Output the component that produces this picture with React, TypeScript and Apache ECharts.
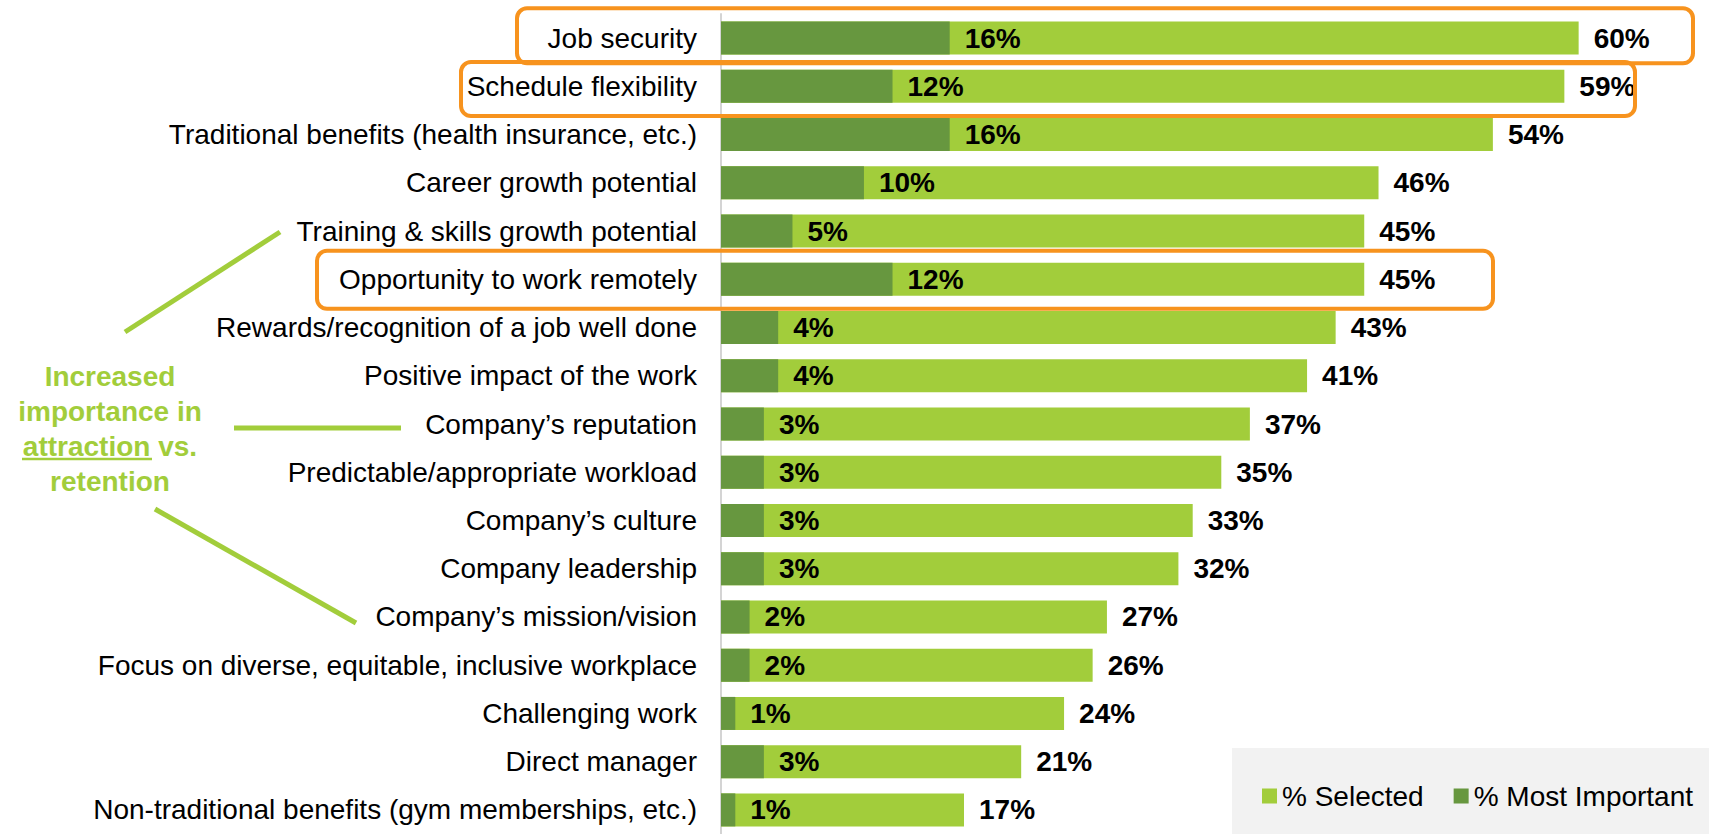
import React, { useEffect, useRef } from "react";
import * as echarts from "echarts";

const categories = [
  "Job security",
  "Schedule flexibility",
  "Traditional benefits (health insurance, etc.)",
  "Career growth potential",
  "Training & skills growth potential",
  "Opportunity to work remotely",
  "Rewards/recognition of a job well done",
  "Positive impact of the work",
  "Company’s reputation",
  "Predictable/appropriate workload",
  "Company’s culture",
  "Company leadership",
  "Company’s mission/vision",
  "Focus on diverse, equitable, inclusive workplace",
  "Challenging work",
  "Direct manager",
  "Non-traditional benefits (gym memberships, etc.)",
];

const selectedValues = [60, 59, 54, 46, 45, 45, 43, 41, 37, 35, 33, 32, 27, 26, 24, 21, 17];
const mostImportantValues = [16, 12, 16, 10, 5, 12, 4, 4, 3, 3, 3, 3, 2, 2, 1, 3, 1];

const seriesNames = ["% Selected", "% Most Important"];
const annotationText = "Increased\nimportance in\nattraction vs.\nretention";

const LIGHT = "#a2cd3b";
const DARK = "#67973f";
const ORANGE = "#f7931e";
const FONT = "'Liberation Sans', Arial, sans-serif";

export default function App() {
  const ref = useRef<HTMLDivElement>(null);

  useEffect(() => {
    if (!ref.current) return;
    const chart = echarts.init(ref.current, undefined, { renderer: "svg" });

    const gridTop = 14;
    const band = 48.7;
    const rowCenter = (i: number) => gridTop + band * (i + 0.5);

    const boxStyle = { fill: "none", stroke: ORANGE, lineWidth: 4 };
    const lineStyle = { stroke: LIGHT, lineWidth: 5 };

    const valueLabel = {
      show: true,
      position: "right",
      distance: 15,
      formatter: (p: any) => p.value + "%",
      fontSize: 28,
      fontWeight: "bold",
      color: "#000",
      fontFamily: FONT,
    };

    chart.setOption({
      animation: false,
      backgroundColor: "#ffffff",
      textStyle: { fontFamily: FONT },
      grid: { left: 721, top: gridTop, width: 972, height: band * categories.length, containLabel: false },
      xAxis: {
        type: "value",
        min: 0,
        max: 68,
        show: false,
        splitLine: { show: false },
      },
      yAxis: {
        type: "category",
        inverse: true,
        data: categories,
        axisTick: { show: false },
        axisLine: { show: true, lineStyle: { color: "#d4d4d4", width: 2 } },
        axisLabel: { fontSize: 28, color: "#000", fontFamily: FONT, margin: 24 },
      },
      legend: {
        left: 1257,
        top: 777,
        itemWidth: 15,
        itemHeight: 15,
        itemGap: 30,
        icon: "rect",
        data: seriesNames,
        textStyle: { fontSize: 28, color: "#000", fontFamily: FONT },
      },
      series: [
        {
          name: seriesNames[0],
          type: "bar",
          data: selectedValues,
          barWidth: 33,
          barGap: "-100%",
          itemStyle: { color: LIGHT },
          label: valueLabel,
        },
        {
          name: seriesNames[1],
          type: "bar",
          data: mostImportantValues,
          barWidth: 33,
          barGap: "-100%",
          itemStyle: { color: DARK },
          label: valueLabel,
        },
      ],
      graphic: [
        {
          type: "rect",
          z: -10,
          shape: { x: 1232, y: 748, width: 477, height: 90 },
          style: { fill: "#f2f2f2" },
        },
        {
          type: "rect",
          z: 100,
          shape: { x: 517, y: rowCenter(0) - 30, width: 1176, height: 55, r: 10 },
          style: boxStyle,
        },
        {
          type: "rect",
          z: 100,
          shape: { x: 461, y: rowCenter(1) - 25, width: 1174, height: 54, r: 10 },
          style: boxStyle,
        },
        {
          type: "rect",
          z: 100,
          shape: { x: 317, y: rowCenter(5) - 31, width: 1176, height: 58, r: 10 },
          style: boxStyle,
        },
        {
          type: "text",
          z: 100,
          x: 110,
          y: 359,
          style: {
            text: annotationText,
            fill: LIGHT,
            font: `bold 28px ${FONT}`,
            fontSize: 28,
            fontWeight: "bold",
            fontFamily: FONT,
            lineHeight: 35,
            textAlign: "center",
            textVerticalAlign: "top",
            align: "center",
            verticalAlign: "top",
          },
        },
        {
          type: "line",
          z: 100,
          shape: { x1: 22, y1: 459, x2: 152, y2: 459 },
          style: { stroke: LIGHT, lineWidth: 2.5 },
        },
        {
          type: "line",
          z: 100,
          shape: { x1: 125, y1: 332, x2: 280, y2: 232 },
          style: lineStyle,
        },
        {
          type: "line",
          z: 100,
          shape: { x1: 234, y1: rowCenter(8), x2: 401, y2: rowCenter(8) },
          style: lineStyle,
        },
        {
          type: "line",
          z: 100,
          shape: { x1: 155, y1: 509, x2: 356, y2: 623 },
          style: lineStyle,
        },
      ],
    });

    return () => chart.dispose();
  }, []);

  return (
    <div
      ref={ref}
      style={{ position: "fixed", left: 0, top: 0, width: 1709, height: 834, background: "#fff" }}
    />
  );
}
